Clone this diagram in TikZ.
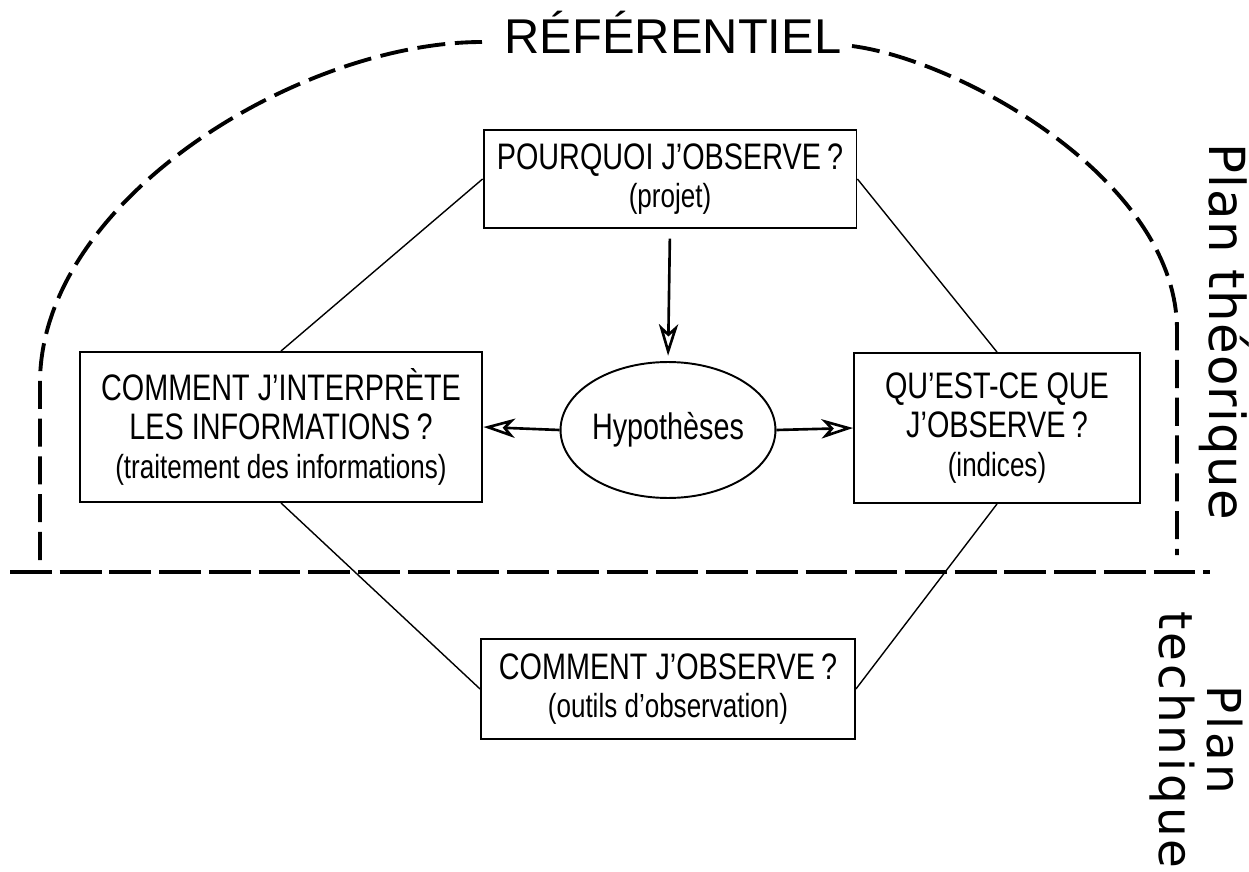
\documentclass[tikz,border=0pt]{standalone}
\usepackage{fontspec}
\setmainfont{Liberation Sans}
\newfontfamily\etroit[FakeStretch=0.78]{Liberation Sans}
\newfontfamily\planfont[LetterSpace=2.5]{DejaVu Sans}
\newfontfamily\techfont[LetterSpace=6.5]{DejaVu Sans}
\usetikzlibrary{shapes, calc, arrows.meta}

\newcommand{\detail}[1]{{\fontsize{19}{22}\selectfont #1}}

\tikzset{
    boite/.style={draw, line width=1.1pt, inner sep=0pt, align=center,
        font=\etroit\fontsize{21}{22}\selectfont},
    lien/.style={line width=0.8pt},
    fleche/.style={line width=1.5pt, -{Stealth[open, length=18pt, width=11pt, inset=5pt]}},
    tirets/.style={line width=2.2pt, dash pattern=on 16pt off 5.5pt},
    coupure/.style={line width=2.2pt, dash pattern=on 23.8pt off 4.5pt}
}

\begin{document}
\begin{tikzpicture}[x=0.02cm, y=-0.02cm]
    \def\haut{3cm}
    \useasboundingbox (0, 0) rectangle (1249, 872);

    \node[boite, minimum width=7.46cm, minimum height=1.96cm] (pourquoi) at (670, 179)
        {POURQUOI J’OBSERVE\,?\\ \detail{(projet)}};
    \node[boite, minimum width=8.06cm, minimum height=\haut] (interprete) at (281, 427)
        {COMMENT J’INTERPRÈTE\\LES INFORMATIONS\,?\\ \detail{(traitement des informations)}};
    \node[boite, minimum width=5.72cm, minimum height=\haut] (quoi) at (997, 428)
        {QU’EST-CE QUE\\J’OBSERVE\,?\\ \detail{(indices)}};
    \node[boite, minimum width=7.48cm, minimum height=2cm] (comment) at (668, 689)
        {COMMENT J’OBSERVE\,?\\ \detail{(outils d’observation)}};
    \node[boite, ellipse, minimum width=3.8cm, minimum height=2.72cm] (hypo) at (668, 430)
        {Hypothèses};

    \draw[lien] (pourquoi.west) -- (interprete.north);
    \draw[lien] (pourquoi.east) -- (quoi.north);
    \draw[lien] (interprete.south) -- (comment.west);
    \draw[lien] (quoi.south) -- (comment.east);

    \draw[fleche, shorten <=5.5pt, shorten >=3pt] (pourquoi.south) -- (hypo.north);
    \draw[fleche] (hypo.west) -- (interprete.east);
    \draw[fleche] (hypo.east) -- (quoi.west);

    \node[anchor=base, inner sep=0pt, font=\fontsize{27.8}{30}\selectfont] (referentiel)
        at (673, 53) {RÉFÉRENTIEL};
    \draw[tirets] (40, 560) -- (40, 383) .. controls (40, 200) and (300, 42) .. (482, 42);
    \draw[tirets] (852, 46) .. controls (960, 60) and (1177, 180) .. (1177, 330) -- (1177, 555);
    \draw[coupure] (10, 572) -- (1210, 572);

    \node[rotate=-90, anchor=base west, inner sep=0pt,
        font=\planfont\fontsize{28.3}{30}\selectfont] (theorique) at (1209, 143) {Plan théorique};
    \node[rotate=-90, align=center, inner sep=0pt,
        font=\techfont\fontsize{26.6}{27.2}\selectfont] (technique) at (1196, 740) {Plan\\technique};
\end{tikzpicture}
\end{document}
